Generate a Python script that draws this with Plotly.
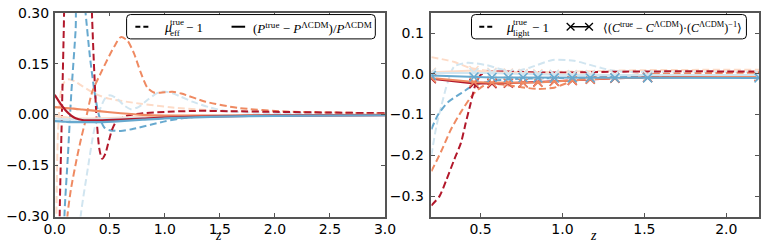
import plotly.graph_objects as go

W, H = 772, 251

# ---------------- colours (RdBu) ----------------
C_DR = "#b2182b"
C_OR = "#ef8a62"
C_PE = "#fddbc7"
C_LB = "#d1e5f0"
C_BL = "#67a9cf"

# ---------------- left panel: mu_eff - 1 (dashed) ----------------
z_mu_dr = [0.0, 0.03, 0.045, 0.065, 0.085, 0.10, 0.30, 0.338, 0.36, 0.38, 0.405, 0.43, 0.46, 0.485, 0.52, 0.56, 0.65, 0.8, 1.0, 1.3, 1.6, 2.0, 2.5, 3.0]
mu_dr   = [-2.0, -1.0, -0.30, 0.0, 0.30, 0.80, 0.80, 0.30, 0.12, -0.01, -0.10, -0.13, -0.115, -0.086, -0.045, -0.02, -0.004, 0.004, 0.008, 0.011, 0.010, 0.008, 0.006, 0.004]

z_mu_or = [0.0, 0.06, 0.10, 0.118, 0.147, 0.20, 0.24, 0.28, 0.34, 0.43, 0.54, 0.60, 0.66, 0.72, 0.78, 0.84, 0.90, 1.0, 1.07, 1.15, 1.37, 1.66, 2.1, 2.5, 3.0]
mu_or   = [-1.2, -0.6, -0.36, -0.29, -0.22, -0.13, -0.07, -0.017, 0.066, 0.13, 0.20, 0.228, 0.218, 0.18, 0.125, 0.08, 0.065, 0.066, 0.067, 0.062, 0.038, 0.020, 0.009, 0.006, 0.004]

z_mu_pe = [0.0, 0.015, 0.03, 0.06, 0.09, 0.13, 0.18, 0.25, 0.37, 0.49, 0.78, 1.07, 1.4, 2.0, 2.5, 3.0]
mu_pe   = [-0.6, -0.30, -0.05, 0.075, 0.097, 0.104, 0.098, 0.084, 0.061, 0.047, 0.032, 0.021, 0.013, 0.007, 0.005, 0.004]

z_mu_lb = [0.0, 0.15, 0.20, 0.235, 0.30, 0.353, 0.40, 0.456, 0.50, 0.56, 0.63, 0.69, 0.76, 0.85, 0.93, 0.99, 1.07, 1.15, 1.25, 1.4, 1.54, 1.8, 2.2, 3.0]
mu_lb   = [-2.0, -0.7, -0.45, -0.30, -0.16, -0.054, 0.005, 0.047, 0.057, 0.048, 0.027, 0.016, 0.022, 0.045, 0.063, 0.068, 0.063, 0.052, 0.038, 0.022, 0.011, 0.006, 0.004, 0.002]

z_mu_bl = [0.0, 0.06, 0.088, 0.12, 0.15, 0.19, 0.21, 0.25, 0.28, 0.32, 0.36, 0.40, 0.45, 0.50, 0.60, 0.70, 0.87, 1.0, 1.2, 1.5, 2.0, 2.5, 3.0]
mu_bl   = [-2.0, -0.8, -0.30, -0.12, 0.06, 0.25, 0.40, 0.40, 0.30, 0.17, 0.07, 0.0, -0.038, -0.046, -0.048, -0.043, -0.030, -0.020, -0.009, -0.004, -0.002, -0.001, -0.001]

# ---------------- left panel: (P_true - P_LCDM)/P_LCDM (solid) ----------------
z_p = [0.0, 0.05, 0.10, 0.15, 0.19, 0.25, 0.4, 0.6, 0.8, 1.0, 1.5, 2.0, 3.0]
p_dr = [0.058, 0.033, 0.012, -0.003, -0.011, -0.016, -0.017, -0.015, -0.012, -0.009, -0.005, -0.003, -0.002]
p_or = [0.022, 0.021, 0.019, 0.018, 0.017, 0.015, 0.010, 0.004, -0.001, -0.003, -0.003, -0.002, -0.001]
p_pe = [-0.004, -0.006, -0.008, -0.010, -0.011, -0.012, -0.011, -0.009, -0.007, -0.005, -0.003, -0.002, -0.001]
p_lb = [-0.012, -0.013, -0.014, -0.015, -0.015, -0.015, -0.014, -0.012, -0.010, -0.008, -0.004, -0.003, -0.002]
p_bl = [-0.019, -0.020, -0.021, -0.022, -0.022, -0.022, -0.022, -0.019, -0.015, -0.011, -0.006, -0.004, -0.002]

# ---------------- right panel: mu_light - 1 (dashed) ----------------
z_ml_dr = [0.2, 0.25, 0.29, 0.34, 0.38, 0.41, 0.44, 0.47, 0.50, 0.54, 0.6, 0.8, 1.0, 1.3, 1.6, 2.0, 2.2]
ml_dr   = [-0.323, -0.30, -0.262, -0.21, -0.17, -0.12, -0.072, -0.025, -0.003, 0.005, 0.006, 0.004, 0.003, 0.005, 0.006, 0.006, 0.006]

z_ml_or = [0.2, 0.26, 0.32, 0.38, 0.46, 0.54, 0.65, 0.75, 0.85, 0.95, 1.03, 1.10, 1.20, 1.40, 1.6, 2.2]
ml_or   = [-0.239, -0.19, -0.136, -0.094, -0.048, -0.025, -0.027, -0.033, -0.037, -0.034, -0.022, -0.013, -0.007, -0.003, 0.0, 0.003]

z_ml_pe = [0.2, 0.3, 0.34, 0.44, 0.6, 0.8, 1.0, 1.5, 2.2]
ml_pe   = [0.041, 0.033, 0.029, 0.014, 0.006, 0.004, 0.005, 0.009, 0.010]

z_ml_lb = [0.2, 0.23, 0.26, 0.30, 0.34, 0.42, 0.54, 0.62, 0.70, 0.80, 0.94, 1.07, 1.15, 1.24, 1.34, 1.6, 2.2]
ml_lb   = [-0.20, -0.13, -0.08, -0.02, 0.018, 0.027, 0.021, 0.012, 0.006, 0.015, 0.034, 0.032, 0.024, 0.014, 0.006, 0.004, 0.004]

z_ml_bl = [0.2, 0.24, 0.30, 0.38, 0.46, 0.58, 0.70, 0.90, 1.2, 1.6, 2.0, 2.2]
ml_bl   = [-0.136, -0.101, -0.07, -0.048, -0.028, -0.017, -0.013, -0.011, -0.009, -0.007, -0.006, -0.006]

# ---------------- right panel: <(C_true - C_LCDM)(C_LCDM)^-1> (solid + x) ----------------
z_c = [0.2, 0.46, 0.57, 0.67, 0.76, 0.85, 0.95, 1.06, 1.17, 1.32, 1.52, 2.2]
c_dr = [-0.012, -0.024, -0.024, -0.023, -0.022, -0.020, -0.018, -0.016, -0.013, -0.011, -0.009, -0.006]
c_or = [-0.010, -0.020, -0.022, -0.022, -0.022, -0.021, -0.019, -0.016, -0.013, -0.011, -0.009, -0.007]
c_pe = [0.004, 0.008, 0.004, 0.002, 0.001, 0.0, -0.001, -0.002, -0.002, -0.003, -0.003, -0.003]
c_lb = [0.002, 0.003, 0.002, 0.0, -0.001, -0.002, -0.002, -0.003, -0.003, -0.003, -0.003, -0.003]
c_bl = [-0.004, -0.008, -0.009, -0.009, -0.009, -0.010, -0.010, -0.010, -0.010, -0.010, -0.010, -0.010]

# ---------------- ticks & labels ----------------
left_xticks = [0.0, 0.5, 1.0, 1.5, 2.0, 2.5, 3.0]
left_yticks = [-0.30, -0.15, 0.00, 0.15, 0.30]
right_xticks = [0.5, 1.0, 1.5, 2.0]
right_yticks = [-0.3, -0.2, -0.1, 0.0, 0.1]
x_title = "<i>z</i>"
leg_left_mu = ("<i>μ</i>", "true", "eff", "− 1")
leg_left_p = "(<i>P</i><sup>true</sup> − <i>P</i><sup>ΛCDM</sup>)/<i>P</i><sup>ΛCDM</sup>"
leg_right_mu = ("<i>μ</i>", "true", "light", "− 1")
leg_right_c = "⟨(<i>C</i><sup>true</sup> − <i>C</i><sup>ΛCDM</sup>)·(<i>C</i><sup>ΛCDM</sup>)<sup>−1</sup>⟩"

DASH = "7px,3.5px"
SERIF = "Liberation Serif"
SANS = "DejaVu Sans"

fig = go.Figure()

def dashed(x, y, col, xa, ya):
    fig.add_trace(go.Scatter(x=x, y=y, mode="lines", xaxis=xa, yaxis=ya, showlegend=False,
                             line=dict(color=col, width=2, dash=DASH, shape="spline", smoothing=0.7),
                             hoverinfo="skip"))

def solid(x, y, col, xa, ya, w=2.0):
    fig.add_trace(go.Scatter(x=x, y=y, mode="lines", xaxis=xa, yaxis=ya, showlegend=False,
                             line=dict(color=col, width=w, shape="spline", smoothing=0.7),
                             hoverinfo="skip"))

def xline(x, y, col):
    fig.add_trace(go.Scatter(x=x, y=y, mode="lines+markers", xaxis="x2", yaxis="y2", showlegend=False,
                             line=dict(color=col, width=2),
                             marker=dict(symbol="x-thin", size=9, line=dict(width=1.5, color=col)),
                             hoverinfo="skip"))

# left panel
for z, v, c in [(z_mu_pe, mu_pe, C_PE), (z_mu_lb, mu_lb, C_LB), (z_mu_or, mu_or, C_OR),
                (z_mu_bl, mu_bl, C_BL), (z_mu_dr, mu_dr, C_DR)]:
    dashed(z, v, c, "x", "y")
for v, c in [(p_pe, C_PE), (p_lb, C_LB), (p_or, C_OR), (p_dr, C_DR), (p_bl, C_BL)]:
    solid(z_p, v, c, "x", "y", w=2.2)

# right panel
for z, v, c in [(z_ml_pe, ml_pe, C_PE), (z_ml_lb, ml_lb, C_LB), (z_ml_or, ml_or, C_OR),
                (z_ml_bl, ml_bl, C_BL), (z_ml_dr, ml_dr, C_DR)]:
    dashed(z, v, c, "x2", "y2")
for v, c in [(c_dr, C_DR), (c_or, C_OR), (c_pe, C_PE), (c_lb, C_LB), (c_bl, C_BL)]:
    xline(z_c, v, c)


def px_x(p):
    return p / W

def px_y(p):
    return 1 - p / H

def rounded_box(x0, y0, x1, y1, r=4):
    rx, ry = r / W, r / H
    X0, X1 = px_x(x0), px_x(x1)
    Y0, Y1 = px_y(y0), px_y(y1)  # Y0 top, Y1 bottom
    return (f"M{X0+rx},{Y0} L{X1-rx},{Y0} Q{X1},{Y0} {X1},{Y0-ry} "
            f"L{X1},{Y1+ry} Q{X1},{Y1} {X1-rx},{Y1} "
            f"L{X0+rx},{Y1} Q{X0},{Y1} {X0},{Y1+ry} "
            f"L{X0},{Y0-ry} Q{X0},{Y0} {X0+rx},{Y0} Z")

def pline(x0, y0, x1, y1, dash="solid", width=2):
    return dict(type="line", xref="paper", yref="paper", x0=px_x(x0), y0=px_y(y0),
                x1=px_x(x1), y1=px_y(y1), line=dict(color="black", width=width, dash=dash),
                layer="above")

def pcross(xc, yc, s=4):
    return [pline(xc - s, yc - s, xc + s, yc + s, width=1.3),
            pline(xc - s, yc + s, xc + s, yc - s, width=1.3)]

LEG_Y = 20
shapes = [
    dict(type="path", xref="paper", yref="paper", path=rounded_box(119, 7, 375, 33),
         fillcolor="white", line=dict(color="black", width=1), layer="above"),
    dict(type="path", xref="paper", yref="paper", path=rounded_box(474, 7, 757, 33),
         fillcolor="white", line=dict(color="black", width=1), layer="above"),
    pline(128, LEG_Y, 143, LEG_Y, dash="5px,3px"),
    pline(227, LEG_Y, 241, LEG_Y),
    pline(482, LEG_Y, 497, LEG_Y, dash="5px,3px"),
    pline(576, LEG_Y, 595, LEG_Y, width=1.5),
] + pcross(576, LEG_Y) + pcross(595, LEG_Y)

def ptext(x, y, text, size=13, family=SERIF, xanchor="left", yanchor="middle"):
    return dict(x=px_x(x), y=px_y(y), xref="paper", yref="paper", text=text, showarrow=False,
                xanchor=xanchor, yanchor=yanchor, font=dict(family=family, size=size, color="black"),
                borderpad=0)

def stacked(x0, parts, w_sub):
    mu, sup, sub, rest = parts
    return [ptext(x0, 21, mu, size=14),
            ptext(x0 + 7, 14.5, sup, size=9),
            ptext(x0 + 7, 26.5, sub, size=9),
            ptext(x0 + 7 + w_sub + 2, 20.5, rest, size=13)]

annotations = (
    stacked(156, leg_left_mu, 14)
    + stacked(509, leg_right_mu, 17)
    + [ptext(373, LEG_Y + 1, leg_left_p, size=13, xanchor="right"),
       ptext(753, LEG_Y + 1, leg_right_c, size=12, xanchor="right"),
       ptext(214, 252, x_title, size=14, xanchor="center", yanchor="bottom"),
       ptext(600, 252, x_title, size=14, xanchor="center", yanchor="bottom")]
)

axis_common = dict(showgrid=False, zeroline=False, showline=True, linecolor="#555555", linewidth=1.5,
                   mirror="allticks", ticks="inside", ticklen=4, tickwidth=1, tickcolor="#555555",
                   ticklabeloverflow="allow",
                   tickfont=dict(family=SANS, size=14, color="black"))

ydom = [px_y(222.7), px_y(5)]

fig.update_layout(
    width=W, height=H,
    margin=dict(l=0, r=0, t=0, b=0),
    paper_bgcolor="white", plot_bgcolor="white",
    showlegend=False,
    xaxis=dict(domain=[px_x(45), px_x(385)], range=[0, 3], tickvals=left_xticks, tickformat=".1f",
               anchor="y", ticklabelstandoff=-1, **axis_common),
    yaxis=dict(domain=ydom, range=[-0.30, 0.30], tickvals=left_yticks, tickformat=".2f",
               anchor="x", ticklabelstandoff=1, **axis_common),
    xaxis2=dict(domain=[px_x(432.7), px_x(770)], range=[0.2, 2.2], tickvals=right_xticks, tickformat=".1f",
                anchor="y2", ticklabelstandoff=-1, **axis_common),
    yaxis2=dict(domain=ydom, range=[-0.35, 0.15], tickvals=right_yticks, tickformat=".1f",
                anchor="x2", ticklabelstandoff=3, **axis_common),
    shapes=shapes,
    annotations=annotations,
)

fig.write_html("out.html", config={"displayModeBar": False},
               post_script="document.body.style.margin='0';document.body.style.overflow='hidden';")
